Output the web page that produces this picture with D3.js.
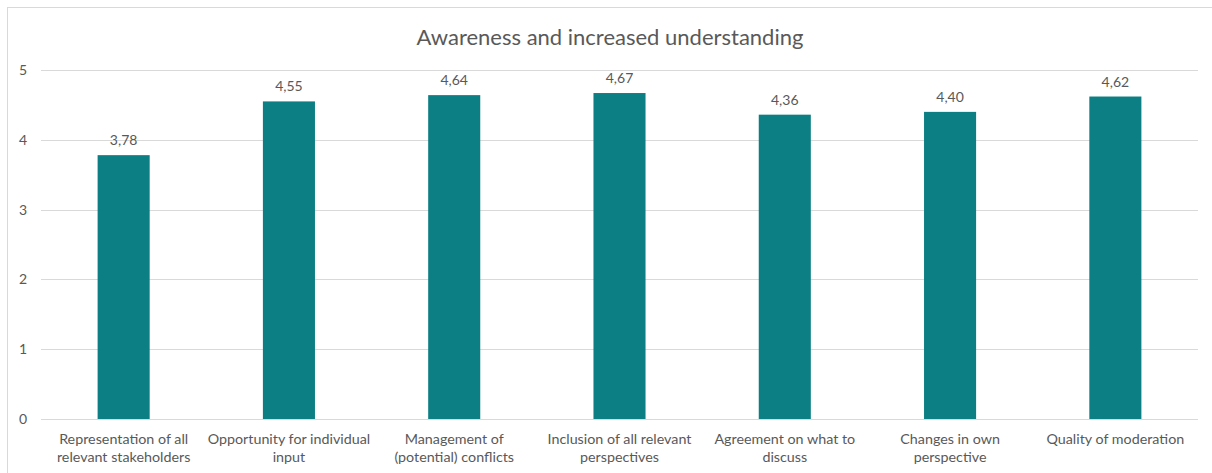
<!DOCTYPE html>
<html>
<head>
<meta charset="utf-8">
<script src="https://cdn.jsdelivr.net/npm/d3@7/dist/d3.min.js"></script>
<style>
  html, body { margin: 0; padding: 0; background: #fff; }
  svg { display: block; font-family: Lato, "Open Sans", sans-serif; }
</style>
</head>
<body>
<svg id="chart" width="1212" height="473"></svg>
<script>
const title = "Awareness and increased understanding";
const categories = [
  ["Representation of all", "relevant stakeholders"],
  ["Opportunity for individual", "input"],
  ["Management of", "(potential) conflicts"],
  ["Inclusion of all relevant", "perspectives"],
  ["Agreement on what to", "discuss"],
  ["Changes in own", "perspective"],
  ["Quality of moderation"]
];
const values = [3.78, 4.55, 4.64, 4.67, 4.36, 4.40, 4.62];
const yTicks = [0, 1, 2, 3, 4, 5];

const svg = d3.select("#chart");
const W = 1212, H = 473;
const plot = { left: 41, right: 1198, top: 70, bottom: 419 };

// outer chart frame
svg.append("rect")
  .attr("x", 7.5).attr("y", 7.5)
  .attr("width", W + 20).attr("height", H + 20)
  .attr("fill", "#fff").attr("stroke", "#d9d9d9").attr("stroke-width", 1);

const x = d3.scaleBand()
  .domain(d3.range(categories.length))
  .range([plot.left, plot.right])
  .paddingInner(0.685)
  .paddingOuter(0.3425);

const y = d3.scaleLinear().domain([0, 5]).range([plot.bottom, plot.top]);

// horizontal gridlines
svg.append("g")
  .selectAll("line")
  .data(yTicks)
  .join("line")
  .attr("x1", plot.left).attr("x2", plot.right)
  .attr("y1", d => Math.round(y(d)) + 0.5).attr("y2", d => Math.round(y(d)) + 0.5)
  .attr("stroke", "#d9d9d9").attr("stroke-width", 1);

// y axis labels
const yAxis = d3.axisLeft(y).tickValues(yTicks).tickSize(0).tickPadding(0).tickFormat(d3.format("d"));
const gy = svg.append("g").attr("transform", `translate(27,0)`).call(yAxis);
gy.select(".domain").remove();
gy.selectAll("text").attr("fill", "#595959").style("font-size", "14px")
  .style("font-family", "Lato, sans-serif");

// bars
svg.append("g")
  .selectAll("rect")
  .data(values)
  .join("rect")
  .attr("x", (d, i) => x(i))
  .attr("width", x.bandwidth())
  .attr("y", d => y(d))
  .attr("height", d => y(0) - y(d))
  .attr("fill", "#0b7f83");

// value labels
const fmt = d => d.toFixed(2).replace(".", ",");
svg.append("g")
  .selectAll("text")
  .data(values)
  .join("text")
  .attr("x", (d, i) => x(i) + x.bandwidth() / 2)
  .attr("y", d => y(d) - 10)
  .attr("text-anchor", "middle")
  .attr("fill", "#595959")
  .style("font-size", "14px")
  .text(fmt);

// category labels (two lines each)
const cat = svg.append("g")
  .selectAll("text")
  .data(categories)
  .join("text")
  .attr("x", (d, i) => x(i) + x.bandwidth() / 2)
  .attr("y", 444)
  .attr("text-anchor", "middle")
  .attr("fill", "#595959")
  .style("font-size", "14.3px");
cat.selectAll("tspan")
  .data(d => d)
  .join("tspan")
  .attr("x", function () { return d3.select(this.parentNode).attr("x"); })
  .attr("dy", (d, j) => j === 0 ? 0 : 18)
  .text(d => d);

// title
svg.append("text")
  .attr("x", 610).attr("y", 45)
  .attr("text-anchor", "middle")
  .attr("fill", "#595959")
  .style("font-size", "22px")
  .text(title);
</script>
</body>
</html>
